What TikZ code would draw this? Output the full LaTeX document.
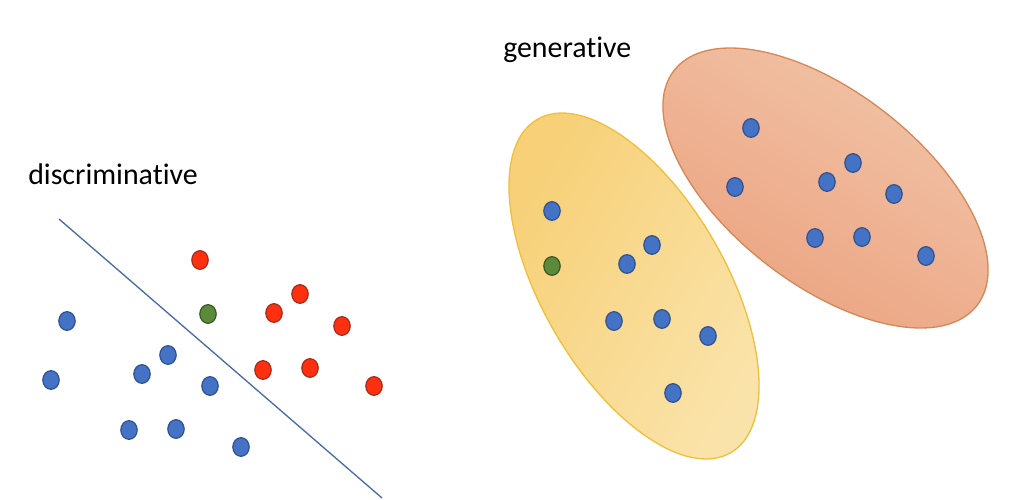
\documentclass[tikz,border=0pt]{standalone}
\usepackage{fontspec}
\setmainfont[Ligatures={NoCommon}]{Carlito}
\usetikzlibrary{shapes.geometric}
\definecolor{bfill}{HTML}{4472C4}
\definecolor{bline}{HTML}{2F528F}
\definecolor{rfill}{HTML}{FF3010}
\definecolor{rline}{HTML}{A52A1A}
\definecolor{gfill}{HTML}{5B8A3A}
\definecolor{gline}{HTML}{385723}
\definecolor{sepline}{HTML}{4A6AA8}
\definecolor{ytop}{HTML}{F7D077}
\definecolor{ybot}{HTML}{FAE3AA}
\definecolor{yline}{HTML}{EFC03C}
\definecolor{stop}{HTML}{F2C4A8}
\definecolor{sbot}{HTML}{EBA27F}
\definecolor{sline}{HTML}{D58858}
\tikzset{
  dotbase/.style={ellipse, inner sep=0pt, minimum width=12.3pt, minimum height=14pt, line width=0.9pt},
  bdot/.style={dotbase, fill=bfill, draw=bline},
  rdot/.style={dotbase, fill=rfill, draw=rline},
  gdot/.style={dotbase, fill=gfill, draw=gline},
  lbl/.style={font=\fontsize{22.4}{26}\selectfont, inner sep=0pt, anchor=base west},
}
\begin{document}
\begin{tikzpicture}[x=0.75pt,y=-0.75pt]
\useasboundingbox (0,0) rectangle (1029,500);
% labels
\node[lbl] (disc) at (28,184) {discriminative};
\node[lbl] (gen) at (503,57) {generative};
% separating line
\coordinate (l1) at (59,219);
\coordinate (l2) at (382,498);
\draw[sepline, line width=1pt] (l1) -- (l2);
% left red dots
\node[rdot] (r1) at (200,260) {};
\node[rdot] (r2) at (300,294) {};
\node[rdot] (r3) at (274,313) {};
\node[rdot] (r4) at (342,326) {};
\node[rdot] (r5) at (263,370) {};
\node[rdot] (r6) at (310,368) {};
\node[rdot] (r7) at (374,386) {};
\node[gdot] (g1) at (208,314) {};
% left blue dots
\node[bdot] (b1) at (67,321) {};
\node[bdot] (b2) at (51,380) {};
\node[bdot] (b3) at (168,355) {};
\node[bdot] (b4) at (142,374) {};
\node[bdot] (b5) at (210,386) {};
\node[bdot] (b6) at (129,430) {};
\node[bdot] (b7) at (176,429) {};
\node[bdot] (b8) at (241,447) {};
% ellipses
\shade[rotate around={-59.9:(634,286)}, top color=ytop, bottom color=ybot, shading angle=60]
  (634,286) ellipse [x radius=192.7, y radius=91.7];
\draw[yline, line width=1pt, rotate around={-59.9:(634,286)}]
  (634,286) ellipse [x radius=192.7, y radius=91.7];
\shade[rotate around={-37.8:(825.5,188)}, top color=stop, bottom color=sbot, shading angle=-30]
  (825.5,188) ellipse [x radius=191.7, y radius=96.3];
\draw[sline, line width=1pt, rotate around={-37.8:(825.5,188)}]
  (825.5,188) ellipse [x radius=191.7, y radius=96.3];
% yellow cluster dots
\node[bdot] (y1) at (552,211) {};
\node[gdot] (y2) at (552,266) {};
\node[bdot] (y3) at (652,245) {};
\node[bdot] (y4) at (627,264) {};
\node[bdot] (y5) at (614,321) {};
\node[bdot] (y6) at (662,319) {};
\node[bdot] (y7) at (708,336) {};
\node[bdot] (y8) at (673,393) {};
% salmon cluster dots
\node[bdot] (s1) at (751,128) {};
\node[bdot] (s2) at (735,187) {};
\node[bdot] (s3) at (853,163) {};
\node[bdot] (s4) at (827,182) {};
\node[bdot] (s5) at (894,194) {};
\node[bdot] (s6) at (815,238) {};
\node[bdot] (s7) at (862,237) {};
\node[bdot] (s8) at (926,256) {};
\end{tikzpicture}
\end{document}
